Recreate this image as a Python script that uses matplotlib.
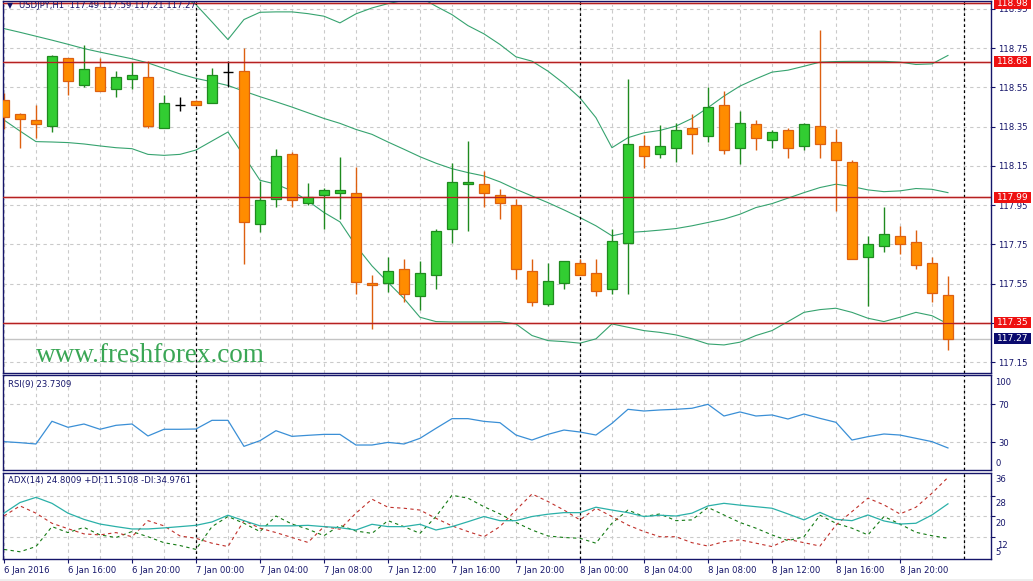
import numpy as np
import matplotlib
matplotlib.use("Agg")
import matplotlib.pyplot as plt
from matplotlib.patches import Rectangle
import matplotlib.transforms as mtrans

# ---------------- data ----------------
header = "USDJPY,H1  117.49 117.59 117.21 117.27"
rsi_title = "RSI(9) 23.7309"
adx_title = "ADX(14) 24.8009 +DI:11.5108 -DI:34.9761"
watermark = "www.freshforex.com"

# hourly bars from 6 Jan 2016 12:00 to 8 Jan 2016 23:00
x_tick_idx = [0, 4, 8, 12, 16, 20, 24, 28, 32, 36, 40, 44, 48, 52, 56]
x_tick_labels = ["6 Jan 2016", "6 Jan 16:00", "6 Jan 20:00", "7 Jan 00:00", "7 Jan 04:00",
                 "7 Jan 08:00", "7 Jan 12:00", "7 Jan 16:00", "7 Jan 20:00", "8 Jan 00:00",
                 "8 Jan 04:00", "8 Jan 08:00", "8 Jan 12:00", "8 Jan 16:00", "8 Jan 20:00"]
day_sep_idx = [12, 36, 60]

opens = [118.484, 118.413, 118.382, 118.353, 118.699, 118.562, 118.655, 118.543, 118.594, 118.604, 118.345, 118.460,
         118.482, 118.472, 118.628, 118.635, 117.852, 117.984, 118.213, 117.963, 118.004, 118.014,
         118.014, 117.552, 117.552, 117.623, 117.489, 117.592, 117.831, 118.060, 118.060, 118.004,
         117.953, 117.613, 117.448, 117.552, 117.653, 117.603, 117.521, 117.758, 118.253, 118.213,
         118.243, 118.345, 118.304, 118.462, 118.243, 118.365, 118.284, 118.335, 118.253, 118.355,
         118.274, 118.172, 117.684, 117.740, 117.791, 117.760, 117.653, 117.490]
highs = [118.523, 118.421, 118.462, 118.713, 118.701, 118.764, 118.701, 118.636, 118.679, 118.687, 118.513, 118.503,
         118.486, 118.647, 118.684, 118.752, 118.074, 118.235, 118.221, 118.062, 118.036, 118.194,
         118.143, 117.592, 117.686, 117.675, 117.665, 117.831, 118.164, 118.275, 118.123, 118.035,
         117.980, 117.675, 117.655, 117.664, 117.675, 117.675, 117.831, 118.594, 118.306, 118.357,
         118.367, 118.413, 118.553, 118.533, 118.431, 118.382, 118.335, 118.345, 118.370, 118.845,
         118.336, 118.182, 117.791, 117.943, 117.842, 117.823, 117.686, 117.590]
lows = [118.336, 118.243, 118.294, 118.325, 118.511, 118.553, 118.533, 118.503, 118.543, 118.345, 118.345, 118.431,
        118.458, 118.472, 118.553, 117.650, 117.811, 117.943, 117.943, 117.952, 117.828, 117.880,
        117.499, 117.321, 117.509, 117.459, 117.418, 117.521, 117.758, 117.821, 117.943, 117.880,
        117.572, 117.438, 117.438, 117.521, 117.592, 117.489, 117.499, 117.499, 118.142, 118.192,
        118.170, 118.213, 118.274, 118.213, 118.162, 118.231, 118.242, 118.192, 118.233, 118.192,
        117.921, 117.674, 117.438, 117.714, 117.703, 117.623, 117.459, 117.210]
closes = [118.401, 118.391, 118.365, 118.711, 118.584, 118.645, 118.533, 118.604, 118.614, 118.353, 118.472, 118.460,
          118.460, 118.614, 118.628, 117.862, 117.974, 118.203, 117.974, 117.992, 118.025, 118.025,
          117.560, 117.542, 117.613, 117.499, 117.603, 117.821, 118.070, 118.070, 118.014, 117.963,
          117.623, 117.459, 117.562, 117.664, 117.592, 117.511, 117.770, 118.264, 118.203, 118.253,
          118.335, 118.314, 118.452, 118.233, 118.370, 118.294, 118.325, 118.243, 118.365, 118.264,
          118.182, 117.674, 117.750, 117.801, 117.750, 117.643, 117.501, 117.270]

bb_upper = [119.20, 119.19, 119.18, 119.16, 119.14, 119.12, 119.10, 119.08, 119.07, 119.06, 119.04, 119.02,
            118.972, 118.884, 118.794, 118.896, 118.933, 118.935, 118.935, 118.926, 118.913, 118.879,
            118.925, 118.955, 118.977, 118.994, 119.010, 118.964, 118.921, 118.865, 118.823, 118.769,
            118.706, 118.684, 118.633, 118.570, 118.497, 118.396, 118.243, 118.294, 118.319, 118.331,
            118.353, 118.392, 118.447, 118.506, 118.557, 118.594, 118.628, 118.638, 118.658, 118.679,
            118.682, 118.683, 118.683, 118.683, 118.679, 118.667, 118.670, 118.713]
bb_mid = [118.850, 118.831, 118.811, 118.791, 118.770, 118.748, 118.730, 118.713, 118.696, 118.675, 118.647, 118.619,
          118.596, 118.579, 118.560, 118.531, 118.503, 118.477, 118.450, 118.421, 118.392, 118.367,
          118.336, 118.311, 118.272, 118.235, 118.197, 118.164, 118.136, 118.116, 118.099, 118.069,
          118.031, 117.997, 117.963, 117.926, 117.887, 117.845, 117.794, 117.811, 117.816, 117.823,
          117.831, 117.845, 117.862, 117.879, 117.904, 117.938, 117.958, 117.986, 118.014, 118.040,
          118.057, 118.045, 118.028, 118.019, 118.023, 118.035, 118.031, 118.014]
bb_lower = [118.384, 118.328, 118.274, 118.272, 118.269, 118.262, 118.252, 118.243, 118.238, 118.209, 118.204, 118.209,
            118.231, 118.277, 118.323, 118.201, 118.077, 118.057, 118.023, 117.972, 117.913, 117.865,
            117.743, 117.641, 117.557, 117.475, 117.379, 117.357, 117.355, 117.355, 117.355, 117.356,
            117.345, 117.286, 117.260, 117.255, 117.247, 117.269, 117.345, 117.328, 117.311, 117.302,
            117.289, 117.269, 117.243, 117.238, 117.252, 117.286, 117.311, 117.357, 117.404, 117.418,
            117.425, 117.404, 117.374, 117.357, 117.379, 117.404, 117.387, 117.345]

rsi = [30.4, 29.3, 27.9, 52.0, 45.6, 49.1, 43.5, 47.7, 49.1, 36.4, 43.5, 43.5,
       43.8, 53.0, 53.0, 25.4, 31.4, 42.0, 36.0, 37.1, 38.1, 38.1,
       26.8, 26.8, 29.6, 27.9, 33.9, 44.5, 54.8, 54.8, 51.9, 50.5,
       37.4, 32.1, 38.1, 42.7, 40.6, 37.4, 49.8, 64.7, 62.9, 64.0,
       64.7, 65.8, 70.0, 57.6, 61.9, 57.6, 58.7, 54.4, 59.7, 55.1,
       50.9, 32.1, 35.7, 38.5, 37.4, 33.9, 30.4, 23.7]
adx = [21.2, 25.3, 27.3, 25.0, 21.2, 18.8, 17.0, 16.0, 15.1, 15.1, 15.5, 16.0,
       16.5, 17.8, 20.4, 18.3, 16.3, 16.3, 16.3, 16.5, 16.0, 15.6,
       14.7, 16.9, 16.0, 16.0, 16.9, 14.7, 16.0, 17.9, 19.9, 18.3,
       18.3, 19.9, 20.8, 21.4, 21.4, 23.5, 22.4, 21.4, 19.9, 20.4,
       20.1, 21.2, 24.0, 25.0, 24.3, 23.7, 23.1, 20.9, 18.6, 21.5,
       18.8, 18.3, 20.5, 18.2, 17.0, 17.3, 20.5, 24.8]
plus_di = [7.2, 6.3, 8.3, 16.0, 13.7, 15.7, 12.8, 11.8, 14.1, 12.1, 9.8, 8.7,
           7.2, 16.0, 19.9, 17.3, 14.1, 20.1, 17.0, 15.0, 12.5, 16.5,
           14.3, 13.4, 18.3, 16.0, 13.4, 19.9, 28.1, 27.0, 23.7, 20.9,
           17.6, 14.7, 12.4, 11.8, 11.5, 9.6, 17.3, 22.4, 19.9, 20.9,
           18.3, 18.6, 23.4, 20.5, 17.6, 15.4, 12.8, 10.6, 12.1, 20.4,
           17.3, 15.4, 12.8, 19.9, 17.0, 13.8, 12.5, 11.5]
minus_di = [20.1, 24.0, 21.2, 17.3, 15.2, 13.2, 12.8, 13.7, 12.1, 18.3, 16.3, 12.4,
            11.5, 9.6, 8.3, 18.3, 15.4, 13.7, 11.8, 9.9, 16.0, 15.0,
            21.2, 26.6, 23.5, 23.1, 22.4, 19.2, 16.3, 14.1, 12.1, 16.0,
            22.4, 28.6, 25.7, 22.4, 18.6, 23.1, 19.9, 16.6, 14.1, 12.1,
            12.1, 9.8, 8.5, 10.2, 10.9, 9.6, 8.3, 11.1, 9.8, 8.5,
            16.6, 21.8, 27.0, 24.4, 20.9, 23.5, 28.9, 35.0]

price_ticks = [118.95, 118.75, 118.55, 118.35, 118.15, 117.95, 117.75, 117.55, 117.35, 117.15]
level_lines = [118.98, 118.68, 117.99, 117.35]
bid_price = 117.27
rsi_ticks = [70, 30]
adx_ticks = [28, 20, 12]

# ---------------- style ----------------
W, H = 1033, 581
NAVY = '#15156A'
GRID = '#CACACA'
BULL_FILL, BULL_EDGE = '#32CD32', '#1F8A1F'
BEAR_FILL, BEAR_EDGE = '#FF8C00', '#DD6010'
BB_COL = '#36A36F'
RSI_COL = '#3A8FD6'
ADX_COL = '#2AB0A8'
PDI_COL = '#137A13'
MDI_COL = '#C0302A'
LEVEL_COL = '#B52020'
FS = 6.1

plt.rcParams['font.family'] = ['DejaVu Sans']

fig = plt.figure(figsize=(W / 100, H / 100), dpi=100)
fig.patch.set_facecolor('white')


def rect(l, t, r, b):
    return [l / W, 1 - b / H, (r - l) / W, (b - t) / H]


ax = fig.add_axes(rect(3, 0.5, 991, 373))
ax_rsi = fig.add_axes(rect(3, 375, 991, 470))
ax_adx = fig.add_axes(rect(3, 472.5, 991, 559))

n = len(closes)
xs = np.arange(n)
XLIM = (-0.06, 61.69)

for a in (ax, ax_rsi, ax_adx):
    a.set_xlim(*XLIM)
    a.set_facecolor('white')
    for s in a.spines.values():
        s.set_color(NAVY)
        s.set_linewidth(1.0)
    for i in range(0, 62, 2):
        a.axvline(i, color=GRID, lw=0.8, ls=(0, (3, 3)), zorder=0.5)
    for d in day_sep_idx:
        a.axvline(d, color='black', lw=0.9, ls=(0, (2.2, 2.2)), zorder=1.2)

# ---------------- main panel ----------------
ax.set_ylim(117.095, 118.993)
for p in price_ticks:
    ax.axhline(p, color=GRID, lw=0.8, ls=(0, (3, 3)), zorder=0.5)

ax.axhline(bid_price, color='#C4C4C4', lw=1.0, zorder=0.8)
for lv in level_lines:
    ax.axhline(lv, color='#F6D4D4', lw=2.2, zorder=0.9)
    ax.axhline(lv, color=LEVEL_COL, lw=0.9, zorder=4)

ax.plot(xs, bb_upper, color=BB_COL, lw=0.8, zorder=1)
ax.plot(xs, bb_mid, color=BB_COL, lw=0.8, zorder=1)
ax.plot(xs, bb_lower, color=BB_COL, lw=0.8, zorder=1)

bw = 0.62
for i in range(n):
    o, h, l, c = opens[i], highs[i], lows[i], closes[i]
    if abs(c - o) < 0.0005:
        ax.vlines(i, l, h, color='black', lw=1.0, zorder=2)
        ax.hlines(o, i - bw / 2, i + bw / 2, color='black', lw=1.0, zorder=2)
        continue
    bull = c > o
    ec = BULL_EDGE if bull else BEAR_EDGE
    fc = BULL_FILL if bull else BEAR_FILL
    ax.vlines(i, l, h, color=ec, lw=1.0, zorder=2)
    ax.add_patch(Rectangle((i - bw / 2, min(o, c)), bw, abs(c - o), facecolor=fc,
                           edgecolor=ec, lw=0.9, zorder=3))

ax.tick_params(axis='x', length=0, labelbottom=False)
ax.yaxis.tick_right()
ax.set_yticks(price_ticks)
ax.set_yticklabels([f"{p:.2f}" for p in price_ticks])
ax.tick_params(axis='y', length=3, width=0.8, color=NAVY, pad=2, labelsize=FS,
               labelcolor=NAVY, right=True, left=False)

bt = mtrans.blended_transform_factory(ax.transAxes, ax.transData)
box_w = 37 / 988
box_h = 11 / 196.5
for lv in level_lines:
    ax.add_patch(Rectangle((1.003, lv - box_h / 2), box_w, box_h, transform=bt,
                           facecolor='#EE1111', edgecolor='none', clip_on=False, zorder=10))
    ax.text(1.003 + box_w / 2, lv, f"{lv:.2f}", transform=bt, ha='center', va='center',
            color='white', fontsize=FS + 0.4, clip_on=False, zorder=11)
ax.add_patch(Rectangle((1.003, bid_price - box_h / 2), box_w, box_h, transform=bt,
                       facecolor='#0A0A6E', edgecolor='none', clip_on=False, zorder=10))
ax.text(1.003 + box_w / 2, bid_price, f"{bid_price:.2f}", transform=bt, ha='center', va='center',
        color='white', fontsize=FS + 0.4, clip_on=False, zorder=11)

# ---------------- RSI panel ----------------
ax_rsi.set_ylim(0.3, 101.1)
for r in rsi_ticks:
    ax_rsi.axhline(r, color=GRID, lw=0.8, ls=(0, (3, 3)), zorder=0.5)
ax_rsi.plot(xs, rsi, color=RSI_COL, lw=0.9, zorder=2)
ax_rsi.tick_params(axis='x', length=0, labelbottom=False)
ax_rsi.yaxis.tick_right()
ax_rsi.set_yticks(rsi_ticks)
ax_rsi.set_yticklabels([str(r) for r in rsi_ticks])
ax_rsi.tick_params(axis='y', length=3, width=0.8, color=NAVY, pad=2, labelsize=FS,
                   labelcolor=NAVY, right=True, left=False)

# ---------------- ADX panel ----------------
ax_adx.set_ylim(3.5, 36.9)
for r in adx_ticks:
    ax_adx.axhline(r, color=GRID, lw=0.8, ls=(0, (3, 3)), zorder=0.5)
ax_adx.plot(xs, adx, color=ADX_COL, lw=0.9, zorder=3)
ax_adx.plot(xs, plus_di, color=PDI_COL, lw=0.8, ls=(0, (3, 3)), zorder=2)
ax_adx.plot(xs, minus_di, color=MDI_COL, lw=0.8, ls=(0, (3, 3)), zorder=2)
ax_adx.yaxis.tick_right()
ax_adx.set_yticks(adx_ticks)
ax_adx.tick_params(axis='y', length=3, width=0.8, color=NAVY, right=True, left=False,
                   labelright=False)
ax_adx.set_xticks(x_tick_idx)
ax_adx.set_xticklabels(x_tick_labels)
for t in ax_adx.get_xticklabels():
    t.set_ha('left')
ax_adx.tick_params(axis='x', length=3, width=0.8, color=NAVY, pad=2, labelsize=FS,
                   labelcolor=NAVY, direction='out')


def ftext(x, y, s, **kw):
    fig.text(x / W, 1 - y / H, s, **kw)


# right-axis labels drawn where the platform shows them
ftext(995, 382.3, "100", ha='left', va='center', fontsize=FS, color=NAVY)
ftext(995, 463.3, "0", ha='left', va='center', fontsize=FS, color=NAVY)
for lab, yy in (("36", 479.3), ("28", 503.5), ("20", 524.0), ("12", 545.3), ("5", 552.7)):
    ftext(995 if lab != "12" else 997, yy, lab, ha='left', va='center', fontsize=FS, color=NAVY)

# titles
ftext(10, 6, "\u25BC", ha='center', va='center', fontsize=FS - 0.5, color=NAVY)
ftext(19, 6, header, ha='left', va='center', fontsize=FS, color=NAVY)
ftext(8, 384.5, rsi_title, ha='left', va='center', fontsize=FS, color=NAVY)
ftext(8, 481, adx_title, ha='left', va='center', fontsize=FS, color=NAVY)

# watermark
ftext(36, 361.5, watermark, ha='left', va='baseline', fontsize=19.5, color='#3AA655',
      family=['Liberation Serif', 'DejaVu Serif'])

# window chrome
fig.patches.append(Rectangle((0, 0), 1, 2.0 / H, transform=fig.transFigure,
                             facecolor='#EEEEEE', edgecolor='none', zorder=0))

fig.savefig("out.png", dpi=100, facecolor='white')
